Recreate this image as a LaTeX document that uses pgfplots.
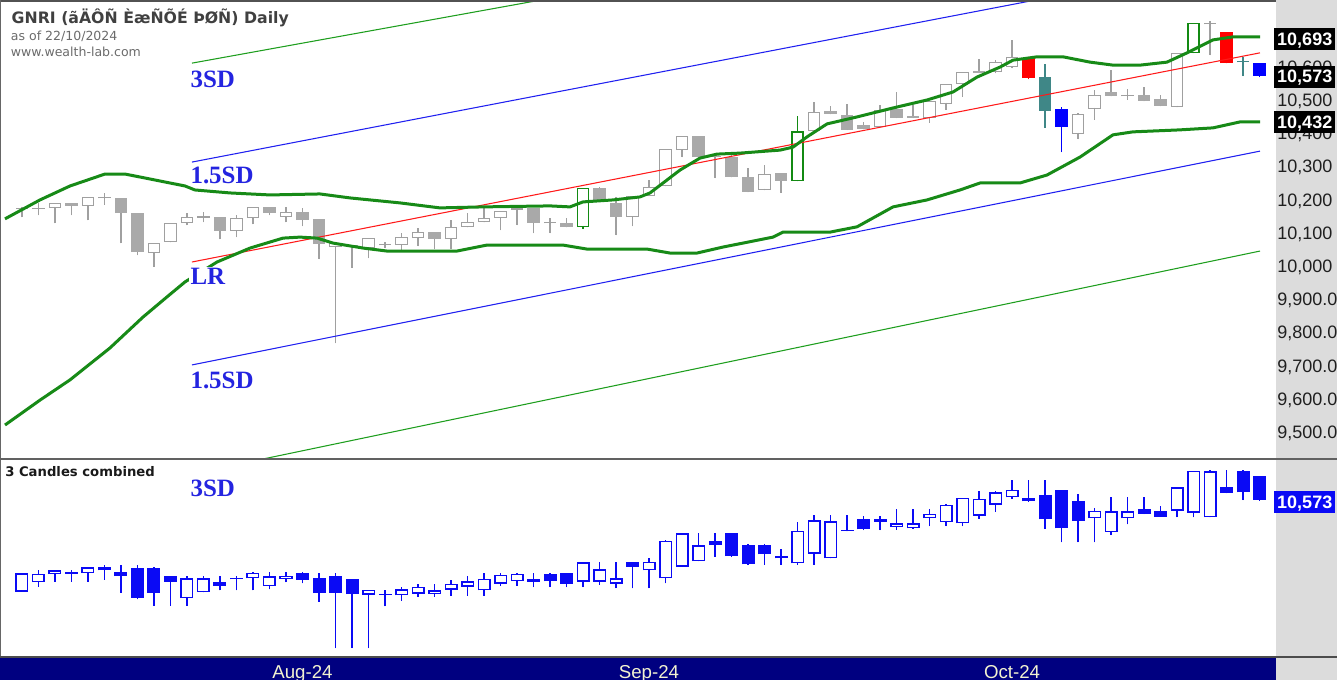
\documentclass[border=0pt]{standalone}
\usepackage{fontspec}
\setmainfont{DejaVu Sans}
\newfontfamily\arialf{Liberation Sans}
\newfontfamily\timesf{Liberation Serif}
\usepackage{pgfplots}
\pgfplotsset{compat=1.18}
\usepackage{pgfplotstable}

\definecolor{gfill}{HTML}{A9A9A9}
\definecolor{gline}{HTML}{A0A0A0}
\definecolor{bandg}{HTML}{178A17}
\definecolor{candg}{HTML}{138A13}
\definecolor{tealc}{HTML}{3F8787}
\definecolor{navyc}{HTML}{000080}
\definecolor{stripg}{HTML}{DCDCDC}
\definecolor{lblue}{HTML}{2424E0}
\definecolor{titleg}{HTML}{404040}
\definecolor{cblue}{HTML}{0A0AF5}
\definecolor{monthc}{HTML}{F2F2D0}
\definecolor{lrred}{HTML}{FF1A1A}
\definecolor{sdblue}{HTML}{2020F0}
\definecolor{sdgreen}{HTML}{1E9E1E}

% ---------- daily candles (top panel) ----------
\pgfplotstableread{
i o h l c
0 10171 10178 10147 10175
1 10171 10190 10153 10175
2 10175 10191 10129 10190
4 10181 10209 10138 10208
5 10204 10220 10184 10208
8 10039 10070 9997 10069
9 10072 10130 10071 10129
10 10129 10159 10123 10147
11 10146 10162 10132 10150
13 10105 10153 10087 10144
14 10144 10179 10126 10178
16 10147 10178 10132 10162
19 10057 10070 9768 10069
20 10059 10063 9994 10063
21 10054 10085 10024 10084
22 10062 10072 10054 10066
23 10063 10099 10048 10087
24 10084 10114 10060 10102
26 10081 10138 10051 10117
27 10117 10159 10116 10132
28 10132 10175 10131 10144
29 10144 10167 10108 10166
30 10170 10175 10123 10174
32 10128 10144 10099 10132
37 10147 10212 10120 10211
38 10211 10259 10210 10238
39 10241 10353 10240 10352
40 10349 10392 10328 10391
45 10229 10304 10228 10277
48 10406 10494 10405 10464
52 10419 10485 10418 10470
55 10446 10498 10431 10497
56 10488 10549 10470 10548
57 10548 10585 10509 10584
59 10584 10620 10581 10614
60 10599 10681 10596 10629
64 10399 10461 10382 10458
65 10473 10530 10440 10515
67 10511 10533 10500 10515
70 10479 10643 10478 10642
72 10728 10738 10635 10732
}\tUp
\pgfplotstableread{
i o h l c
3 10190 10191 10153 10181
6 10205 10206 10069 10159
7 10159 10160 10033 10042
12 10147 10148 10081 10105
15 10178 10179 10153 10159
17 10162 10175 10120 10138
18 10141 10142 10021 10066
25 10102 10103 10051 10081
31 10175 10176 10099 10129
33 10129 10144 10116 10117
35 10235 10238 10195 10196
36 10190 10208 10093 10147
41 10391 10392 10327 10328
42 10331 10334 10265 10327
43 10328 10334 10267 10268
44 10268 10295 10222 10223
46 10280 10281 10220 10256
49 10467 10482 10457 10458
50 10455 10488 10409 10410
51 10425 10434 10412 10413
53 10473 10524 10445 10446
54 10452 10485 10445 10446
58 10587 10623 10580 10581
66 10524 10590 10511 10512
68 10515 10539 10496 10497
69 10503 10515 10481 10482
}\tDown
\pgfplotstableread{
i o h l c
34 10117 10236 10111 10235
47 10256 10452 10255 10406
71 10642 10733 10641 10732
}\tGreen
\pgfplotstableread{
i o h l c
61 10626 10627 10563 10566
73 10705 10706 10610 10611
}\tRed
\pgfplotstableread{
i o h l c
62 10569 10608 10416 10467
74 10613 10629 10572 10617
}\tTeal
\pgfplotstableread{
i o h l c
63 10473 10480 10343 10419
75 10611 10612 10569 10573
}\tBlue

% ---------- 3 candles combined (bottom panel) ----------
\pgfplotstableread{
i o h l c
0 10075 10178 10075 10174
1 10127 10192 10100 10173
2 10170 10191 10129 10190
3 10172 10191 10129 10181
4 10175 10209 10129 10208
5 10190 10220 10138 10206
10 10039 10159 9997 10147
11 10072 10162 10071 10148
14 10147 10179 10081 10178
15 10105 10179 10087 10159
16 10144 10179 10126 10162
21 10057 10085 9768 10084
22 10060 10085 9994 10064
23 10054 10099 10024 10087
24 10063 10114 10048 10102
25 10063 10114 10048 10081
26 10084 10138 10051 10117
27 10102 10159 10051 10132
28 10081 10175 10051 10144
29 10117 10175 10108 10166
30 10132 10175 10108 10172
34 10129 10236 10099 10235
35 10129 10238 10111 10196
36 10117 10238 10093 10147
38 10190 10259 10093 10238
39 10147 10353 10120 10352
40 10211 10392 10210 10391
41 10241 10392 10240 10328
47 10229 10452 10220 10406
48 10280 10494 10220 10464
49 10256 10494 10255 10458
50 10404 10494 10403 10410
52 10455 10488 10409 10470
53 10425 10524 10412 10446
54 10419 10524 10418 10446
55 10473 10524 10431 10497
56 10452 10549 10431 10548
57 10446 10585 10431 10584
58 10488 10623 10470 10581
59 10548 10623 10509 10614
60 10587 10681 10580 10629
65 10473 10530 10343 10515
66 10399 10590 10382 10512
67 10473 10590 10440 10513
70 10515 10643 10478 10642
71 10503 10733 10478 10732
72 10479 10738 10478 10730
}\bUp
\pgfplotstableread{
i o h l c
6 10181 10220 10069 10159
7 10205 10220 10033 10042
8 10205 10206 9997 10069
9 10159 10160 9997 10129
12 10129 10162 10081 10105
13 10148 10162 10081 10142
17 10178 10179 10120 10138
18 10147 10178 10021 10066
19 10162 10175 9768 10069
20 10141 10142 9768 10061
31 10144 10176 10099 10129
32 10171 10176 10099 10130
33 10175 10176 10099 10117
37 10235 10238 10093 10211
42 10349 10392 10265 10327
43 10391 10392 10265 10268
44 10330 10334 10222 10223
45 10328 10334 10222 10277
46 10268 10304 10220 10256
51 10467 10488 10409 10413
61 10584 10681 10563 10566
62 10599 10681 10416 10467
63 10626 10627 10343 10419
64 10569 10608 10343 10458
68 10524 10590 10496 10497
69 10512 10539 10481 10482
73 10642 10738 10610 10611
74 10729 10738 10572 10615
75 10705 10706 10569 10573
}\bDown

% ---------- indicator lines ----------
\pgfplotstableread{
x v
-1.03 10142
1.09 10199
2.91 10241
5.03 10277
6.24 10277
7.15 10268
8.67 10253
9.88 10241
10.48 10229
12.61 10220
15.03 10214
18.06 10217
19.88 10205
22.91 10190
25.33 10175
27.94 10178
32.00 10181
33.21 10178
34.00 10193
35.82 10199
37.45 10208
38.06 10220
39.09 10259
39.88 10289
41.09 10325
42.12 10337
43.52 10340
45.94 10349
46.73 10358
47.58 10389
48.79 10428
50.61 10449
52.79 10476
54.85 10500
56.42 10524
57.88 10569
59.27 10599
60.06 10620
61.52 10630
63.09 10630
64.73 10614
66.12 10605
67.76 10605
69.39 10614
70.61 10642
72.18 10681
73.39 10690
75.03 10690
}\upperband
\pgfplotstableread{
x v
-1.03 9521
1.09 9596
2.91 9657
5.33 9753
7.33 9846
8.79 9907
9.88 9952
11.82 10012
13.82 10054
15.82 10084
16.85 10087
17.88 10084
18.85 10069
20.67 10054
22.12 10045
26.36 10045
28.18 10063
32.79 10063
34.24 10051
37.88 10051
39.27 10039
40.91 10039
42.48 10057
45.52 10087
46.12 10102
48.97 10102
50.61 10118
52.79 10178
54.85 10199
56.85 10229
58.06 10250
60.48 10250
62.12 10274
64.12 10328
66.12 10395
67.33 10404
70.18 10410
72.18 10416
73.82 10434
75.03 10434
}\lowerband

\pgfplotsset{
  nomark/.style={forget plot, only marks, mark=*, mark size=0pt,
    mark options={draw=none, fill=none}},
}
\newcommand{\cwick}[3]{\addplot[nomark,
  error bars/.cd, y dir=plus, y explicit, error mark=none,
  error bar style={draw=#2, line width=#3}]
  table[x=i, y=l, y error plus expr={\thisrow{h}-\thisrow{l}}] {#1};}
\newcommand{\cbody}[3]{\addplot[nomark,
  error bars/.cd, y dir=plus, y explicit, error mark=none,
  error bar style={draw=#2, line width=#3}]
  table[x=i, y expr={min(\thisrow{o},\thisrow{c})},
        y error plus expr={abs(\thisrow{c}-\thisrow{o})}] {#1};}
\newcommand{\chole}[3]{\addplot[nomark,
  error bars/.cd, y dir=plus, y explicit, error mark=none,
  error bar style={draw=white, line width=#2}]
  table[x=i, y expr={min(\thisrow{o},\thisrow{c})+#3},
        y error plus expr={max(abs(\thisrow{c}-\thisrow{o})-2*#3,0)}] {#1};}

\pgfplotsset{
  cbase/.style={
    scale only axis, width=957pt,
    xmin=-1.333, xmax=76,
    axis line style={draw=none},
    major tick length=0pt,
    xtick=\empty, ytick=\empty,
    clip mode=individual,
  },
}

\newcommand{\tickfont}{\arialf\fontsize{13.5pt}{16pt}\selectfont}
\newcommand{\sdfont}{\timesf\bfseries\fontsize{18.7pt}{20pt}\selectfont}

\begin{document}
\begin{tikzpicture}[x=1pt,y=1pt]
\fill[stripg] (957,0) rectangle (1002.75,510);
\fill[navyc] (0,0) rectangle (957,16.9);

% ================= top panel =================
\begin{axis}[cbase, at={(0pt,165.75pt)}, anchor=south west,
  height=344.25pt, ymin=9418.7, ymax=10801.2,
  ytick={9500,9600,9700,9800,9900,10000,10100,10200,10300,10400,10500,10600},
  yticklabels={{9,500.00},{9,600.00},{9,700.00},{9,800.00},{9,900.00},{10,000},{10,100},{10,200},{10,300},{10,400},{10,500},{10,600}},
  yticklabel pos=right,
  yticklabel style={anchor=west, inner sep=0pt, xshift=0.75pt, font=\tickfont,
    text=black!88, text height=9.7pt, text depth=0pt},
]
\cwick{\tUp}{gline}{0.8pt}
\cwick{\tDown}{gline}{0.8pt}
\cwick{\tGreen}{candg}{1.1pt}
\cwick{\tRed}{red}{0.8pt}
\cwick{\tTeal}{tealc}{1.1pt}
\cwick{\tBlue}{blue}{1.1pt}
\cbody{\tUp}{gline}{9.25pt}
\chole{\tUp}{7.75pt}{3}
\cbody{\tDown}{gfill}{9.25pt}
\cbody{\tGreen}{candg}{9.5pt}
\chole{\tGreen}{7.4pt}{4}
\cbody{\tRed}{red}{9.25pt}
\cbody{\tTeal}{tealc}{9.25pt}
\cbody{\tBlue}{blue}{9.25pt}
% regression channel
\addplot[sdgreen, line width=0.8pt] coordinates {(10.30,10611) (75.03,11193)};
\addplot[sdblue, line width=0.8pt] coordinates {(10.30,10313) (75.03,10931)};
\addplot[lrred, line width=0.8pt] coordinates {(10.30,10012) (75.03,10642)};
\addplot[sdblue, line width=0.8pt] coordinates {(10.30,9702) (75.03,10346)};
\addplot[sdgreen, line width=0.8pt] coordinates {(10.30,9374) (75.03,10045)};
% bands
\addplot[bandg, line width=2.25pt, line join=round] table[x=x, y=v] {\upperband};
\addplot[bandg, line width=2.25pt, line join=round] table[x=x, y=v] {\lowerband};
\end{axis}

% ================= bottom panel =================
\begin{axis}[cbase, at={(0pt,17.25pt)}, anchor=south west,
  height=147.75pt, ymin=9719.3, ymax=10790.5,
  xtick={17,38,60}, xticklabels={Aug-24,Sep-24,Oct-24},
  xticklabel style={anchor=base, inner sep=0pt, yshift=-16.4pt,
    font=\arialf\fontsize{14pt}{16pt}\selectfont, text=monthc},
]
\cwick{\bUp}{cblue}{1.1pt}
\cwick{\bDown}{cblue}{1.1pt}
\cbody{\bUp}{cblue}{9.75pt}
\chole{\bUp}{7.5pt}{8}
\cbody{\bDown}{cblue}{9.75pt}
\end{axis}

% ================= frame lines =================
\draw[black!68, line width=1.5pt] (0,509.25) -- (957,509.25);
\draw[black!60, line width=0.9pt] (0.45,17) -- (0.45,510);
\draw[black!62, line width=1.5pt] (0,165.4) -- (1002.75,165.4);
\draw[black!70, line width=1.5pt] (0,16.9) -- (1002.75,16.9);

% ================= texts =================
\node[anchor=base west, inner sep=0pt, text=titleg,
  font=\bfseries\fontsize{11.8pt}{14pt}\selectfont] at (8.6,492.5)
  {GNRI (ãÄÔÑ ÈæÑÕÉ ÞØÑ) Daily};
\node[anchor=base west, inner sep=0pt, text=black!58,
  font=\fontsize{9.4pt}{11pt}\selectfont] at (8,479.5) {as of 22/10/2024};
\node[anchor=base west, inner sep=0pt, text=black!58,
  font=\fontsize{9.4pt}{11pt}\selectfont] at (8,467.5) {www.wealth-lab.com};
\node[anchor=base west, inner sep=0pt, text=black!90,
  font=\bfseries\fontsize{9.9pt}{11pt}\selectfont] at (3.75,152.25) {3 Candles combined};

\node[anchor=base west, inner sep=1.5pt, fill=white, text=lblue, font=\sdfont] at (141.2,444.5) {3SD};
\node[anchor=base west, inner sep=1.5pt, fill=white, text=lblue, font=\sdfont] at (141.2,372) {1.5SD};
\node[anchor=base west, inner sep=1.5pt, fill=white, text=lblue, font=\sdfont] at (141.2,296.25) {LR};
\node[anchor=base west, inner sep=1.5pt, fill=white, text=lblue, font=\sdfont] at (141.2,218.8) {1.5SD};
\node[anchor=base west, inner sep=1.5pt, fill=white, text=lblue, font=\sdfont] at (141.2,137.5) {3SD};

% value boxes
\node[anchor=west, fill=black, text=white, inner xsep=2.2pt, inner ysep=0pt,
  minimum height=16.5pt, text height=9.7pt, text depth=0pt,
  font=\tickfont\bfseries] at (955.5,480.75) {10,693};
\node[anchor=west, fill=black, text=white, inner xsep=2.2pt, inner ysep=0pt,
  minimum height=16.5pt, text height=9.7pt, text depth=0pt,
  font=\tickfont\bfseries] at (955.5,452.6) {10,573};
\node[anchor=west, fill=black, text=white, inner xsep=2.2pt, inner ysep=0pt,
  minimum height=16.5pt, text height=9.7pt, text depth=0pt,
  font=\tickfont\bfseries] at (955.5,418.5) {10,432};
\node[anchor=west, fill=cblue, text=white, inner xsep=2.2pt, inner ysep=0pt,
  minimum height=16pt, text height=9.7pt, text depth=0pt,
  font=\tickfont\bfseries] at (955.5,133.5) {10,573};

\pgfresetboundingbox
\path[use as bounding box] (0,0) rectangle (1002.75,510);
\end{tikzpicture}
\end{document}
